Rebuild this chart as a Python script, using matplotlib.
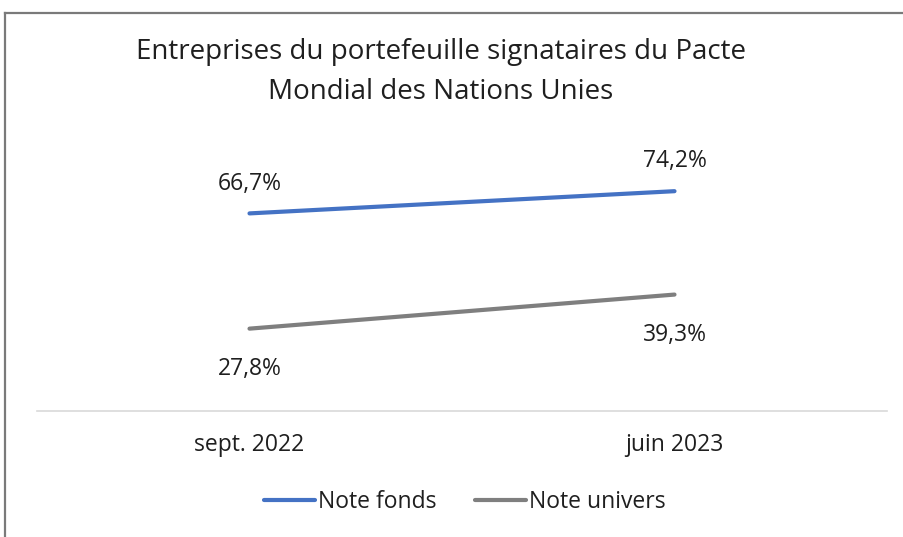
import matplotlib.pyplot as plt
from matplotlib.lines import Line2D

categories = ['sept. 2022', 'juin 2023']
note_fonds = [66.7, 74.2]
note_univers = [27.8, 39.3]
series_names = ['Note fonds', 'Note univers']
title = 'Entreprises du portefeuille signataires du Pacte\nMondial des Nations Unies'

plt.rcParams['font.family'] = ['Open Sans', 'DejaVu Sans']
txt = '#1f1f1f'
blue = '#4472C4'
grey = '#7F7F7F'

fig = plt.figure(figsize=(9.04, 5.37), dpi=100)
ax = fig.add_axes([37 / 904, 126 / 537, 850 / 904, 237 / 537])

x = list(range(len(categories)))
ax.plot(x, note_fonds, color=blue, lw=3, solid_capstyle='round', label=series_names[0])
ax.plot(x, note_univers, color=grey, lw=3, solid_capstyle='round', label=series_names[1])

for xi, v in zip(x, note_fonds):
    ax.annotate(f'{v:.1f}%'.replace('.', ','), (xi, v), xytext=(0, 21.5), textcoords='offset points',
                ha='center', va='center', fontsize=16.5, color=txt)
for xi, v in zip(x, note_univers):
    ax.annotate(f'{v:.1f}%'.replace('.', ','), (xi, v), xytext=(0, -29), textcoords='offset points',
                ha='center', va='center', fontsize=16.5, color=txt)

ax.set_xlim(-0.5, 1.5)
ax.set_ylim(0, 80)
ax.set_yticks([])
ax.set_xticks(x)
ax.set_xticklabels(categories, fontsize=16.5, color=txt)
ax.tick_params(axis='x', length=0, pad=16)
for s in ['top', 'right', 'left']:
    ax.spines[s].set_visible(False)
ax.spines['bottom'].set_color('#D9D9D9')
ax.spines['bottom'].set_linewidth(1.2)

fig.text(441 / 904, 1 - 72 / 537, title, ha='center', va='center', fontsize=20,
         color=txt, linespacing=1.55)

leg = fig.legend(loc='center', bbox_to_anchor=(465 / 904, 1 - 502 / 537), ncol=2, frameon=False,
                 fontsize=16.5, handlelength=2.2, handletextpad=0.15, columnspacing=1.7)
for t in leg.get_texts():
    t.set_color(txt)

# outer frame (top and left only visible)
fig.add_artist(Line2D([5 / 904, 1], [1 - 13 / 537, 1 - 13 / 537], transform=fig.transFigure,
                      color='#7a7a7a', lw=1.6))
fig.add_artist(Line2D([5 / 904, 5 / 904], [0, 1 - 13 / 537], transform=fig.transFigure,
                      color='#7a7a7a', lw=1.6))

fig.savefig('out.png', dpi=100)
